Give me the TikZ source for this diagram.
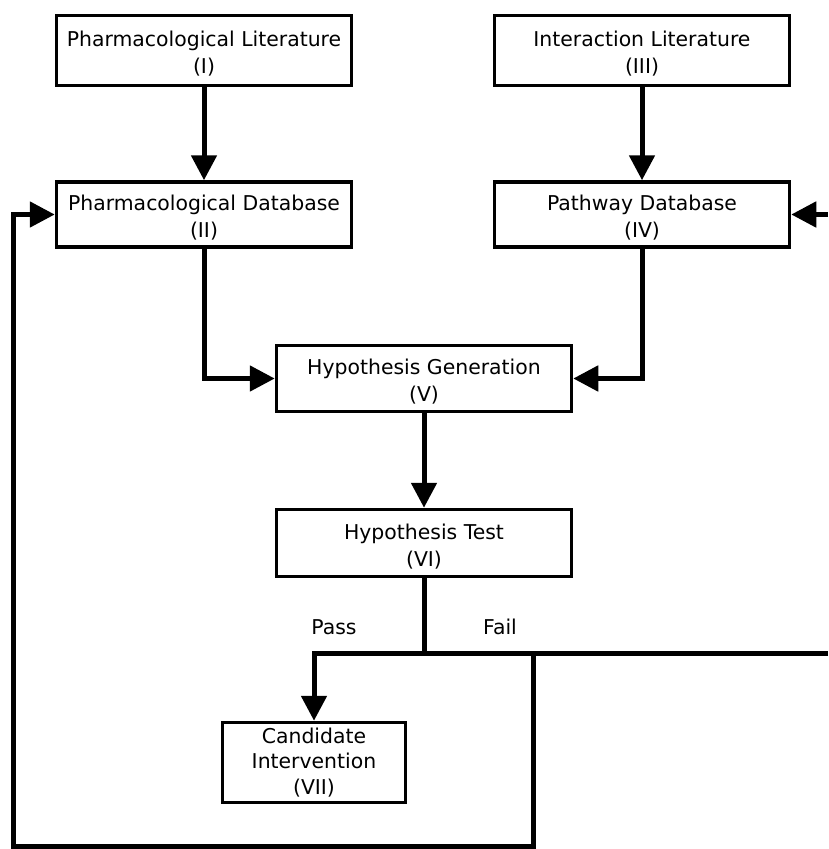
\documentclass[tikz,border=0pt]{standalone}
\usepackage{fontspec}
\setmainfont{DejaVu Sans}
\usetikzlibrary{arrows.meta}
\newcommand{\topstrut}{\rule{0pt}{22pt}}
\begin{document}
\begin{tikzpicture}[x=1pt,y=-1pt,
  box/.style={draw, line width=3.5pt, rectangle, align=center, inner sep=0pt,
              minimum width=295pt, font=\fontsize{20.4}{27}\selectfont},
  conn/.style={line width=5pt},
  arr/.style={conn, -{Triangle[length=25pt,width=25pt]}},
  lbl/.style={font=\fontsize{20.4}{27}\selectfont, inner sep=0pt}]
\useasboundingbox (0,0) rectangle (828,849);
% boxes
\node[box, minimum height=70pt] (I)   at (204,50.5)  {\topstrut Pharmacological Literature\\(I)};
\node[box, minimum height=70pt] (III) at (642,50.5)  {\topstrut Interaction Literature\\(III)};
\node[box, minimum height=65pt] (II)  at (204,214.5) {\topstrut Pharmacological Database\\(II)};
\node[box, minimum height=65pt] (IV)  at (642,214.5) {\topstrut Pathway Database\\(IV)};
\node[box, minimum height=66pt] (V)   at (424,378.5) {\topstrut Hypothesis Generation\\(V)};
\node[box, minimum height=67pt] (VI)  at (424,543)   {\topstrut Hypothesis Test\\(VI)};
\node[box, minimum width=183pt, minimum height=80pt, font=\fontsize{20.4}{25.5}\selectfont]
     (VII) at (314,762.5) {Candidate\\Intervention\\(VII)};
% labels
\node[lbl] (pass) at (334,627) {Pass};
\node[lbl] (fail) at (500,627) {Fail};
% coordinates
\coordinate (j)  at (424,653);
\coordinate (pl) at (314,653);
\coordinate (fr) at (828,653);
\coordinate (fj) at (533,653);
\coordinate (fb) at (533,846);
\coordinate (lb) at (13,846);
\coordinate (lt) at (13,214.5);
\coordinate (re) at (828,214.5);
% connectors
\draw[arr] (I.south) -- (II.north);
\draw[arr] (III.south) -- (IV.north);
\draw[arr] (II.south) |- (V.west);
\draw[arr] (IV.south) |- (V.east);
\draw[arr] (V.south) -- (VI.north);
\draw[conn] (VI.south) -- (j);
\draw[arr] (fr) -- (pl) -- (VII.north);
\draw[arr] (fj) -- (fb) -- (lb) -- (lt) -- (II.west);
\draw[arr] (re) -- (IV.east);
\end{tikzpicture}
\end{document}
